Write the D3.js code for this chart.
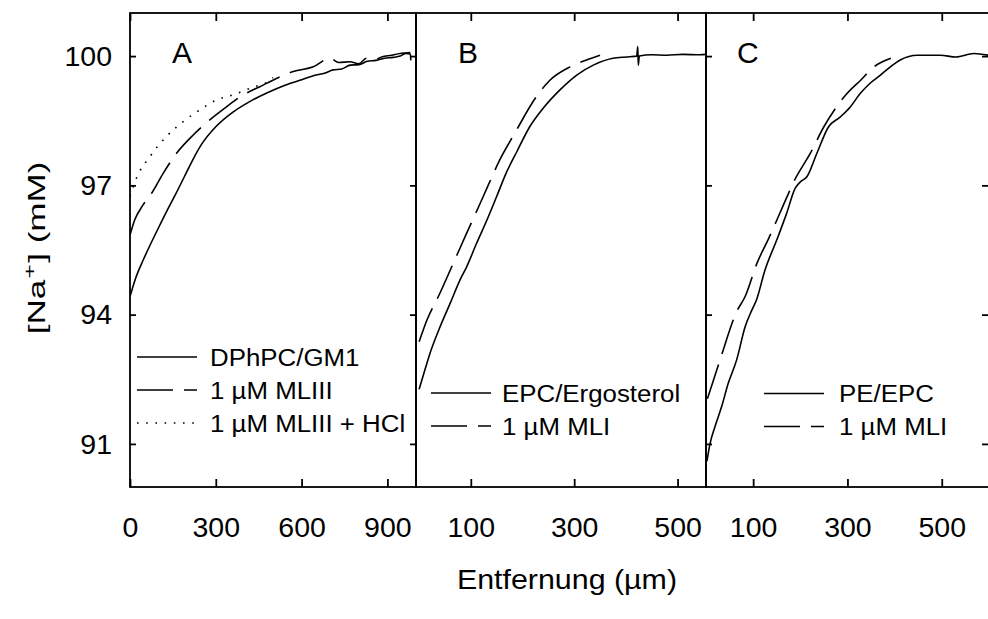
<!DOCTYPE html>
<html><head><meta charset="utf-8">
<script src="https://cdn.jsdelivr.net/npm/d3@7"></script>
<style>
body{margin:0;background:#fff}
svg{display:block}
text{font-family:"Liberation Sans",Arial,Helvetica,sans-serif;fill:#000}
</style>
</head><body><svg id="chart" width="988" height="619"></svg>
<script>
// ---------- data ----------
const yTickValues = [91, 94, 97, 100];
const xTicksA = [0, 300, 600, 900];
const xTicksB = [100, 300, 500];
const xTicksC = [100, 300, 500];
const panelLetters = ["A", "B", "C"];
const legendA = ["DPhPC/GM1", "1 µM MLIII", "1 µM MLIII + HCl"];
const legendB = ["EPC/Ergosterol", "1 µM MLI"];
const legendC = ["PE/EPC", "1 µM MLI"];
const xTitle = "Entfernung (µm)";

// Panel A
const dphpcGM1 = [[0,94.42],[20,94.85],[45,95.25],[75,95.68],[100,96.02],[130,96.42],[160,96.8],[190,97.2],[220,97.6],[250,97.95],[300,98.36],[360,98.7],[420,98.95],[480,99.15],[540,99.32],[600,99.45],[650,99.56],[680,99.6],[710,99.68],[740,99.7],[770,99.79],[800,99.8],[830,99.88],[860,99.9],[890,99.95],[920,99.97],[945,100.0],[965,100.06],[980,100.05],[982,99.9]];
const mliiiOnly = [[0,95.85],[16,96.19],[45,96.54],[75,96.81],[116,97.28],[162,97.74],[221,98.17],[279,98.52],[337,98.82],[396,99.1],[454,99.29],[512,99.48],[571,99.64],[641,99.75],[699,99.95],[730,99.85],[769,99.87],[800,99.82],[827,99.95],[860,99.93],[880,99.98],[915,100.02],[944,100.06],[980,100.08]];
const mliiiHCl = [[0,96.75],[22,97.16],[69,97.66],[127,98.13],[186,98.48],[244,98.75],[302,98.98],[360,99.1],[400,99.2],[440,99.3],[470,99.36],[500,99.5]];
// Panel B
const epcErgosterol = [[0,92.27],[12,92.75],[21,93.1],[40,93.7],[60,94.26],[79,94.8],[92,95.11],[111,95.65],[131,96.19],[150,96.74],[169,97.3],[189,97.78],[214,98.36],[240,98.79],[272,99.21],[305,99.56],[337,99.79],[375,99.95],[400,99.98],[421,100.0],[423,100.22],[424,99.79],[426,100.0],[450,100.03],[479,100.02],[510,100.04],[543,100.03],[555,100.04]];
const epcMLI = [[0,93.37],[15,93.87],[40,94.49],[66,95.19],[92,95.89],[118,96.58],[134,97.01],[156,97.59],[185,98.21],[227,99.06],[253,99.44],[292,99.75],[324,99.91],[350,100.02]];
// Panel C
const peEpc = [[2,90.6],[8.5,91.0],[19,91.4],[33,91.86],[47,92.4],[65,92.95],[83,93.72],[97,94.1],[107,94.34],[125,95.03],[150,95.73],[171,96.35],[189,96.93],[200,97.08],[214,97.2],[235,97.74],[260,98.36],[285,98.59],[306,98.82],[327,99.13],[348,99.37],[370,99.56],[391,99.75],[412,99.91],[448,100.02],[497,100.02],[530,99.98],[568,100.06],[599,100.02]];
const peMLI = [[3,92.05],[23,92.72],[33,93.06],[65,94.07],[83,94.42],[108,95.19],[133,95.77],[172,96.74],[186,97.08],[221,97.74],[250,98.36],[299,99.13],[328,99.44],[356,99.75],[392,99.95]];

// ---------- layout ----------
const svg = d3.select("#chart");
const plotTop = 13, plotBottom = 487;
const y = d3.scaleLinear().domain([90, 101]).range([plotBottom, plotTop]);
const styles = { solid: null, dash: "36,11", dot: "1.6,7.6" };
const panels = [
  {letter: panelLetters[0], domain: [0, 1000], range: [130, 416], ticks: xTicksA,
   series: [[dphpcGM1, "solid"], [mliiiOnly, "dash"], [mliiiHCl, "dot"]],
   legend: legendA, lx: 137, ly: 357, tx: 210, yTicksL: true, yTicksR: true, labels: true, letterX: 172},
  {letter: panelLetters[1], domain: [-6, 555], range: [416, 706], ticks: xTicksB,
   series: [[epcErgosterol, "solid"], [epcMLI, "dash"]],
   legend: legendB, lx: 431, ly: 393, tx: 502, yTicksL: false, yTicksR: false, labels: false, letterX: 458},
  {letter: panelLetters[2], domain: [0, 600], range: [706, 988.9], ticks: xTicksC,
   series: [[peEpc, "solid"], [peMLI, "dash"]],
   legend: legendC, lx: 764, ly: 393.5, tx: 839, yTicksL: true, yTicksR: true, labels: false, letterX: 737}
];
const legendStyles = ["solid", "dash", "dot"];

function stretch(sel, f) {
  sel.each(function () {
    const len = this.getComputedTextLength();
    d3.select(this).attr("textLength", len * f).attr("lengthAdjust", "spacingAndGlyphs");
  });
}

panels.forEach((p, i) => {
  const x = d3.scaleLinear().domain(p.domain).range(p.range);
  const g = svg.append("g");
  const cid = "clip" + i;
  svg.append("clipPath").attr("id", cid).append("rect")
    .attr("x", p.range[0]).attr("y", plotTop).attr("width", p.range[1] - p.range[0]).attr("height", plotBottom - plotTop);

  const line = d3.line().x(d => x(d[0])).y(d => y(d[1])).curve(d3.curveMonotoneX);
  p.series.forEach(([data, st]) => {
    g.append("path").datum(data).attr("d", line)
      .attr("clip-path", `url(#${cid})`)
      .attr("fill", "none").attr("stroke", "#000").attr("stroke-width", 1.6)
      .attr("stroke-dasharray", styles[st]);
  });

  g.append("g").attr("transform", `translate(0,${plotBottom})`)
    .call(d3.axisBottom(x).tickValues(p.ticks).tickSize(-8).tickPadding(29.5).tickFormat(d3.format("d")));
  g.append("g").attr("transform", `translate(0,${plotTop})`)
    .call(d3.axisTop(x).tickValues(p.ticks).tickSize(-8).tickFormat(""));
  if (p.yTicksL) {
    const ax = d3.axisLeft(y).tickValues(yTickValues).tickSize(-6);
    if (p.labels) ax.tickPadding(18).tickFormat(d3.format("d")); else ax.tickFormat("");
    g.append("g").attr("transform", `translate(${p.range[0]},0)`).call(ax);
  }
  if (p.yTicksR) {
    g.append("g").attr("transform", `translate(${p.range[1] - (i === 2 ? 0.9 : 0)},0)`)
      .call(d3.axisRight(y).tickValues(yTickValues).tickSize(-6).tickFormat(""));
  }
  g.selectAll(".domain").remove();
  g.selectAll(".tick line").attr("stroke", "#000").attr("stroke-width", 1.8);
  g.selectAll(".tick text").attr("font-size", 28.5).attr("font-family", '"Liberation Sans",Arial,sans-serif').attr("fill", "#000");

  g.append("rect").attr("x", p.range[0]).attr("y", plotTop)
    .attr("width", p.range[1] - p.range[0]).attr("height", plotBottom - plotTop)
    .attr("fill", "none").attr("stroke", "#000").attr("stroke-width", 1.8);

  g.append("text").attr("x", p.letterX).attr("y", 63).attr("font-size", 30).text(p.letter);

  p.legend.forEach((lab, j) => {
    const yy = p.ly + j * 33;
    g.append("line").attr("x1", p.lx).attr("x2", p.lx + 60).attr("y1", yy).attr("y2", yy)
      .attr("stroke", "#000").attr("stroke-width", 1.6).attr("stroke-dasharray", styles[legendStyles[j]]);
    const t = g.append("text").attr("x", p.tx).attr("y", yy + 8.5).attr("font-size", 23.5).text(lab);
    stretch(t, 1.1);
  });
});

const xTitleText = svg.append("text").attr("x", 567).attr("y", 589).attr("text-anchor", "middle")
  .attr("font-size", 28).text(xTitle);
stretch(xTitleText, 1.085);

const yg = svg.append("g");
const yt = yg.append("text").attr("text-anchor", "middle").attr("font-size", 24.5);
yt.append("tspan").text("[Na");
yt.append("tspan").attr("font-size", 17).attr("dy", -10).attr("dx", 1).text("+");
yt.append("tspan").attr("dy", 10).attr("dx", 1).text("] (mM)");
const ylen = yt.node().getComputedTextLength();
yg.attr("transform", `translate(45,248) rotate(-90) scale(${170 / ylen},1)`);
</script>
</body></html>
